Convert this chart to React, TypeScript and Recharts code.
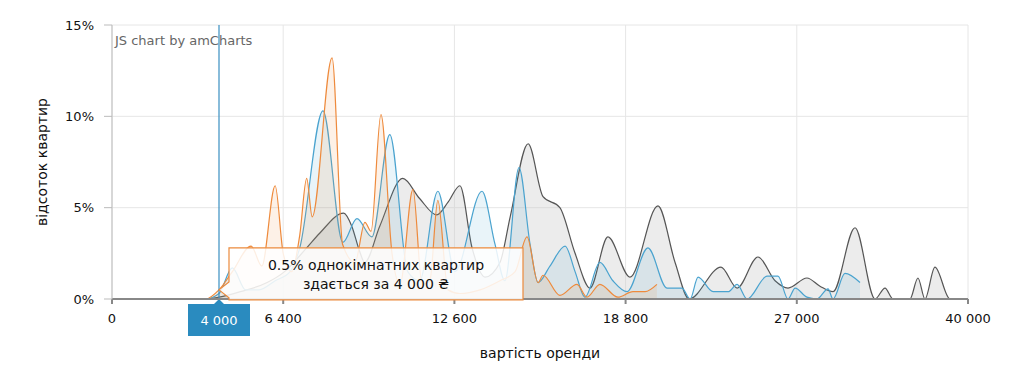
import React from "react";
import {
  AreaChart,
  Area,
  XAxis,
  YAxis,
  CartesianGrid,
  ReferenceLine,
  ReferenceDot,
} from "recharts";

// axis breakpoints (uneven rent scale, evenly spaced on screen)
const rentBreaks = [0, 6400, 12600, 18800, 27000, 40000];
const yTicks = [0, 5, 10, 15];

// однокімнатні
const oneRoomRent = [0, 3500, 4000, 4500, 5200, 5600, 6100, 6400, 6700, 7000, 7250, 7450, 8170, 8550, 9000, 9360, 9580, 9940, 10340, 10630, 11100, 11430, 11710, 12000, 12370, 12800, 13530, 14250, 14800, 15230, 15630, 15810, 16420, 17040, 17400, 17870, 18520, 19150, 19730, 20300];
const oneRoomPct = [0, 0, 0.5, 1.5, 2.9, 1.8, 6.2, 2.5, 1.5, 3.5, 6.6, 4.5, 13.2, 3.0, 2.0, 4.2, 3.7, 10.1, 2.5, 0.8, 6.0, 0.8, 1.0, 5.4, 0.5, 0.3, 0.5, 1.0, 1.5, 3.4, 0.9, 1.3, 0.2, 0.8, 0.1, 0.8, 0.1, 0.4, 0.4, 0.8];

// двокімнатні
const twoRoomRent = [0, 3500, 4000, 4500, 5000, 5500, 6100, 6650, 7000, 7840, 8560, 9070, 9610, 10260, 10910, 11340, 12000, 12620, 13600, 14070, 14430, 14940, 15340, 15630, 16060, 16610, 16970, 17330, 17870, 18340, 18870, 19870, 20780, 21500, 21890, 22270, 22990, 23710, 24140, 24620, 25580, 26100, 26580, 26920, 27770, 28530, 29370, 29750, 30660, 31800];
const twoRoomPct = [0, 0, 0.3, 1.7, 0.5, 0.5, 1.0, 1.5, 2.8, 10.3, 3.1, 4.4, 3.4, 9.0, 1.5, 1.0, 5.9, 1.5, 5.9, 3.0, 1.0, 7.2, 3.0, 0.9, 1.8, 2.9, 1.5, 0.1, 2.0, 1.0, 0.4, 2.8, 0.6, 0.6, 0, 1.2, 0.4, 0.4, 0.8, 0, 1.25, 1.25, 0, 0.6, 0.1, 0, 0.55, 0, 1.4, 0.9];

// трикімнатні
const threeRoomRent = [0, 3500, 4000, 4800, 5800, 6450, 7250, 7720, 8590, 8880, 9170, 9350, 9900, 10730, 11340, 11960, 12370, 12800, 13240, 13710, 14250, 14620, 15270, 15810, 16420, 16970, 17510, 18160, 19010, 20350, 21170, 21840, 23370, 24140, 25140, 25960, 26580, 27770, 28760, 29750, 31420, 32940, 33700, 34300, 35590, 36200, 36730, 37490, 38630, 40000];
const threeRoomPct = [0, 0, 0.1, 0.4, 0.9, 1.5, 2.8, 3.6, 4.7, 4.0, 2.6, 2.0, 4.0, 6.6, 5.5, 4.6, 5.3, 6.2, 2.8, 1.2, 2.0, 4.5, 8.5, 5.6, 5.0, 2.5, 0.6, 3.4, 1.2, 5.1, 2.0, 0, 1.75, 0.6, 2.3, 1.0, 0.6, 1.15, 0.7, 0.4, 3.9, 0, 0.6, 0, 0, 1.15, 0, 1.75, 0, 0];

const cursorRent = 4000;
const cursorPct = 0.5;

const FONT = "'DejaVu Sans', Verdana, sans-serif";

// rent -> position on the evenly spaced axis
function toAxis(rent: number) {
  for (let i = 0; i < rentBreaks.length - 1; i++) {
    const a = rentBreaks[i];
    const b = rentBreaks[i + 1];
    if (rent <= b) return i + (rent - a) / (b - a);
  }
  return rentBreaks.length - 1;
}

const fmt = (v: number) => String(v).replace(/\B(?=(\d{3})+(?!\d))/g, " ");

const build = (rents: number[], pcts: number[]) =>
  rents.map((r, i) => ({ u: toAxis(r), v: pcts[i] }));

const oneRoom = build(oneRoomRent, oneRoomPct);
const twoRoom = build(twoRoomRent, twoRoomPct);
const threeRoom = build(threeRoomRent, threeRoomPct);

function CursorLabel({ viewBox }: any) {
  const x = viewBox.x;
  const y = viewBox.y + viewBox.height;
  return (
    <g>
      <path
        d={`M${x - 31},${y + 5} L${x - 5},${y + 5} L${x},${y} L${x + 5},${y + 5} L${x + 31},${y + 5} L${x + 31},${y + 37} L${x - 31},${y + 37} Z`}
        fill="#2a8bbf"
      />
      <text x={x} y={y + 26} textAnchor="middle" fill="#fff" fontSize={13} fontFamily={FONT}>
        {fmt(cursorRent)}
      </text>
    </g>
  );
}

function Callout({ cx, cy }: any) {
  const left = cx + 10;
  const top = cy - 42;
  const w = 294;
  const h = 52;
  return (
    <g>
      <path
        d={`M${left},${top} L${left + w},${top} L${left + w},${top + h} L${left},${top + h} L${left},${top + 50} L${left - 10},${top + 42} L${left},${top + 34} Z`}
        fill="#ffffff"
        fillOpacity={0.85}
        stroke="#ec8a3c"
        strokeWidth={1.2}
      />
      <text x={left + w / 2} y={top + 22} textAnchor="middle" fontSize={14} fontFamily={FONT} fill="#111">
        {`${cursorPct}% однокімнатних квартир`}
      </text>
      <text x={left + w / 2} y={top + 41} textAnchor="middle" fontSize={14} fontFamily={FONT} fill="#111">
        {`здається за ${fmt(cursorRent)} ₴`}
      </text>
    </g>
  );
}

export default function App() {
  return (
    <div style={{ margin: -8, width: 1010, height: 370, background: "#fff", fontFamily: FONT }}>
      <AreaChart width={1010} height={370} margin={{ top: 25, right: 42, left: 0, bottom: 0 }}>
        <CartesianGrid stroke="#e6e6e6" />
        <XAxis
          type="number"
          dataKey="u"
          domain={[0, 5]}
          ticks={[0, 1, 2, 3, 4, 5]}
          tickFormatter={(i: number) => fmt(rentBreaks[i])}
          allowDuplicatedCategory={false}
          height={71}
          stroke="#888"
          strokeWidth={2}
          tickSize={5}
          tick={{ fill: "#111", fontSize: 13, fontFamily: FONT }}
          tickMargin={10}
          label={{ value: "вартість оренди", position: "insideBottom", offset: 12, fill: "#111", fontSize: 14, fontFamily: FONT }}
        />
        <YAxis
          type="number"
          domain={[0, 15]}
          ticks={yTicks}
          tickFormatter={(v: number) => `${v}%`}
          width={112}
          stroke="#bbb"
          tickSize={8}
          tickMargin={10}
          tick={{ fill: "#111", fontSize: 13, fontFamily: FONT }}
          label={{ value: "відсоток квартир", angle: -90, position: "insideLeft", offset: 42, fill: "#111", fontSize: 14, fontFamily: FONT, style: { textAnchor: "middle" } }}
        />
        <Area
          data={threeRoom}
          dataKey="v"
          type="monotone"
          stroke="#555"
          strokeWidth={1.2}
          fill="#c8c8c8"
          fillOpacity={0.35}
          isAnimationActive={false}
          dot={false}
        />
        <Area
          data={twoRoom}
          dataKey="v"
          type="monotone"
          stroke="#4aa3cf"
          strokeWidth={1.2}
          fill="#4aa3cf"
          fillOpacity={0.12}
          isAnimationActive={false}
          dot={false}
        />
        <Area
          data={oneRoom}
          dataKey="v"
          type="monotone"
          stroke="#ee8a3c"
          strokeWidth={1.2}
          fill="#ee8a3c"
          fillOpacity={0.12}
          isAnimationActive={false}
          dot={false}
        />
        <ReferenceLine x={toAxis(cursorRent)} stroke="#3a8fc1" strokeWidth={1.2} label={<CursorLabel />} />
        <ReferenceDot x={toAxis(cursorRent)} y={cursorPct} shape={<Callout />} />
        <text x={115} y={45} fill="#666" fontSize={13} fontFamily={FONT}>
          JS chart by amCharts
        </text>
      </AreaChart>
    </div>
  );
}
